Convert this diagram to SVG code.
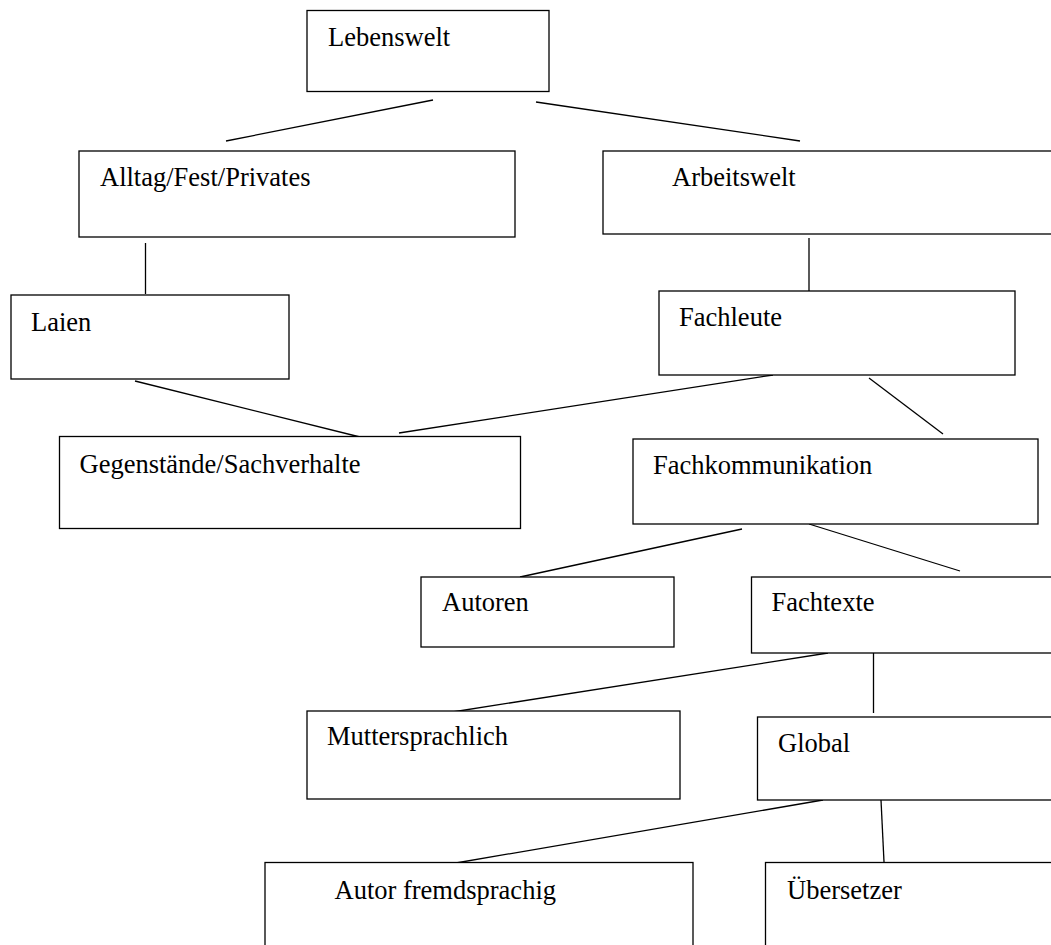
<svg xmlns="http://www.w3.org/2000/svg" width="1051" height="945" viewBox="0 0 1051 945">
<style>
rect{fill:#fff;stroke:#000;stroke-width:1.3}
line{stroke:#000;stroke-width:1.3}
text{font-size:26.5px;fill:#000}
</style>
<rect x="0" y="0" width="1051" height="945" style="fill:#fff;stroke:none"/>
<g id="connectors">
<line x1="433" y1="100" x2="226" y2="141"/>
<line x1="536" y1="102" x2="800" y2="141"/>
<line x1="145.5" y1="243" x2="145.5" y2="294"/>
<line x1="809" y1="238" x2="809" y2="291"/>
<line x1="135" y1="381" x2="360" y2="437"/>
<line x1="399" y1="433" x2="773" y2="375"/>
<line x1="869" y1="378" x2="943" y2="434"/>
<line x1="742" y1="529" x2="520" y2="577"/>
<line x1="809" y1="524" x2="960" y2="571"/>
<line x1="828" y1="653" x2="446" y2="713"/>
<line x1="873.5" y1="653" x2="873.5" y2="713"/>
<line x1="823" y1="800" x2="450" y2="864"/>
<line x1="881" y1="800" x2="884" y2="862"/>
</g>
<g font-family="Liberation Serif, Times New Roman, DejaVu Serif, serif">
<g id="lebenswelt"><rect x="307" y="10.5" width="242" height="81"/><text x="328" y="46">Lebenswelt</text></g>
<g id="alltag"><rect x="79" y="151" width="436" height="86"/><text x="100" y="186">Alltag/Fest/Privates</text></g>
<g id="arbeitswelt"><rect x="603" y="151" width="460" height="83"/><text x="672" y="186">Arbeitswelt</text></g>
<g id="laien"><rect x="11" y="295" width="278" height="84"/><text x="31" y="331">Laien</text></g>
<g id="fachleute"><rect x="659" y="291" width="356" height="84"/><text x="679" y="326">Fachleute</text></g>
<g id="gegenstaende"><rect x="59.5" y="436.5" width="461" height="92"/><text x="79.5" y="473">Gegenstände/Sachverhalte</text></g>
<g id="fachkommunikation"><rect x="633" y="439" width="405" height="85"/><text x="653" y="474">Fachkommunikation</text></g>
<g id="autoren"><rect x="421" y="577" width="253" height="70"/><text x="442" y="611">Autoren</text></g>
<g id="fachtexte"><rect x="751.5" y="577" width="310" height="76"/><text x="771.5" y="611">Fachtexte</text></g>
<g id="muttersprachlich"><rect x="307" y="711" width="373" height="88"/><text x="327" y="745">Muttersprachlich</text></g>
<g id="global"><rect x="757.5" y="717" width="305" height="83"/><text x="778" y="752">Global</text></g>
<g id="autor-fremdsprachig"><rect x="265" y="862.5" width="428" height="100"/><text x="334.5" y="899">Autor fremdsprachig</text></g>
<g id="uebersetzer"><rect x="765.5" y="862.5" width="300" height="100"/><text x="787" y="899">Übersetzer</text></g>
</g>
</svg>
